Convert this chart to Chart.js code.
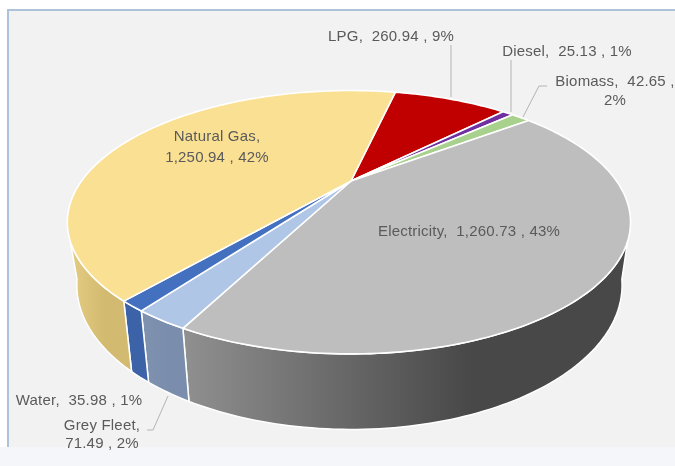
<!DOCTYPE html>
<html>
<head>
<meta charset="utf-8">
<title>Energy use by source</title>
<script src="https://cdn.jsdelivr.net/npm/chart.js@4/dist/chart.umd.min.js"></script>
<style>
  html, body { margin: 0; background: #fff; }
  canvas { display: block; filter: blur(0.4px); }
</style>
</head>
<body>
<canvas id="pie" width="675" height="466"></canvas>
<script>
const categories = ['LPG', 'Diesel', 'Biomass', 'Electricity', 'Grey Fleet', 'Water', 'Natural Gas'];
const values = [260.94, 25.13, 42.65, 1260.73, 71.49, 35.98, 1250.94];
const percents = [9, 1, 2, 43, 2, 1, 42];
const topColors = ['#c00000', '#7030a0', '#a9d18e', '#bebebe', '#b0c6e6', '#4470c0', '#fae093'];
const wallLeft = ['#900000', '#542478', '#7f9d6a', '#909090', '#7f92b0', '#3c62a8', '#e4cc84'];
const wallRight = ['#900000', '#542478', '#7f9d6a', '#484848', '#7a8dac', '#3c62a8', '#d2ba70'];

// how the flat pie is tilted: top face and bottom face of the disc
const PERSPECTIVE = 0.313;
const topFace = { dx: -2, dy: 0, rxLeft: 1.497, rxRight: 1.475, ry: 0.66 };
const bottomFace = { dx: -1, dy: 59, rxLeft: 1.452, rxRight: 1.425, ry: 0.723 };
const deg = d => d * Math.PI / 180;
const WALL_FROM = deg(26);
const WALL_TO = deg(154);
const BOTTOM_FROM = deg(16);
const BOTTOM_TO = deg(164);

// label text lines and where they sit, same order as categories
const fmt = v => v.toLocaleString('en-US', { minimumFractionDigits: 2, maximumFractionDigits: 2 });
const labelText = categories.map((c, i) => `${c},  ${fmt(values[i])} , ${percents[i]}%`);
const labelSpots = [
  { x: 391, ys: [37] },
  { x: 567, ys: [52] },
  { x: 615, ys: [82, 101], split: true },
  { x: 469, ys: [232] },
  { x: 102, ys: [426, 444], split: true },
  { x: 79, ys: [401] },
  { x: 217, ys: [137, 158], split: true }
];
const leaders = [
  [[451, 45], [451, 97]],
  [[511, 60], [511, 112]],
  [[547, 86], [539, 86], [523, 117]],
  [[168, 396], [153, 430], [147, 430]]
];

function project(arc, face, angle) {
  const w = 1 - PERSPECTIVE * Math.sin(angle);
  const cos = Math.cos(angle);
  const rx = cos < 0 ? face.rxLeft : face.rxRight;
  return {
    x: arc.x + face.dx + rx * arc.outerRadius * cos / w,
    y: arc.y + face.dy + face.ry * arc.outerRadius * Math.sin(angle) / w
  };
}

function traceArc(ctx, arc, face, from, to, moveFirst) {
  const steps = Math.max(2, Math.ceil(Math.abs(to - from) / 0.02));
  for (let s = 0; s <= steps; s++) {
    const p = project(arc, face, from + (to - from) * s / steps);
    if (s === 0 && moveFirst) ctx.moveTo(p.x, p.y);
    else ctx.lineTo(p.x, p.y);
  }
}

const tiltedPie = {
  id: 'tiltedPie',
  beforeDraw(chart) {
    const ctx = chart.ctx;
    ctx.save();
    ctx.fillStyle = '#f4f6f9';
    ctx.fillRect(0, 447, 675, 19);
    ctx.fillStyle = '#f2f2f2';
    ctx.fillRect(8, 9, 667, 438);
    ctx.strokeStyle = '#adc3da';
    ctx.lineWidth = 2;
    ctx.beginPath();
    ctx.moveTo(8, 447);
    ctx.lineTo(8, 10);
    ctx.lineTo(675, 10);
    ctx.stroke();
    ctx.restore();
  },
  beforeDatasetsDraw(chart) {
    const ctx = chart.ctx;
    const arcs = chart.getDatasetMeta(0).data;
    ctx.save();
    ctx.lineJoin = 'round';

    // side walls first, the top face covers whatever overlaps
    arcs.forEach((arc, i) => {
      // angles may run past a full turn because of the rotation
      [0, Math.PI * 2, -Math.PI * 2].forEach(shift => {
        const from = Math.max(arc.startAngle + shift, WALL_FROM);
        const to = Math.min(arc.endAngle + shift, WALL_TO);
        if (to <= from) return;
        const left = project(arc, topFace, to).x;
        const right = project(arc, topFace, from).x;
        const grad = ctx.createLinearGradient(left, 0, right, 0);
        grad.addColorStop(0, wallLeft[i]);
        grad.addColorStop(0.65, wallRight[i]);
        grad.addColorStop(1, wallRight[i]);
        ctx.beginPath();
        traceArc(ctx, arc, topFace, from, to, true);
        // the lower rim reaches further round than the upper one at both ends
        traceArc(ctx, arc, bottomFace,
          to === WALL_TO ? BOTTOM_TO : to,
          from === WALL_FROM ? BOTTOM_FROM : from, false);
        ctx.closePath();
        ctx.fillStyle = grad;
        ctx.fill();
        ctx.strokeStyle = '#ffffff';
        ctx.lineWidth = 1.5;
        ctx.stroke();
      });
    });

    // top face
    arcs.forEach((arc, i) => {
      ctx.beginPath();
      ctx.moveTo(arc.x + topFace.dx, arc.y + topFace.dy);
      traceArc(ctx, arc, topFace, arc.startAngle, arc.endAngle, false);
      ctx.closePath();
      ctx.fillStyle = topColors[i];
      ctx.fill();
      ctx.strokeStyle = '#ffffff';
      ctx.lineWidth = 1.6;
      ctx.stroke();
    });

    ctx.restore();
    return false;
  },
  // returning false above also skips afterDatasetsDraw, so labels go here
  afterDraw(chart) {
    const ctx = chart.ctx;
    ctx.save();
    ctx.strokeStyle = '#b4b4b4';
    ctx.lineWidth = 1;
    leaders.forEach(line => {
      ctx.beginPath();
      line.forEach((p, k) => (k ? ctx.lineTo(p[0], p[1]) : ctx.moveTo(p[0], p[1])));
      ctx.stroke();
    });
    ctx.font = '15px "Liberation Sans"';
    ctx.letterSpacing = '0.2px';
    ctx.fillStyle = '#5a5a5a';
    ctx.textAlign = 'center';
    ctx.textBaseline = 'middle';
    labelSpots.forEach((spot, i) => {
      if (spot.split) {
        // two line labels break after the name, Biomass breaks before the percent
        const lines = categories[i] === 'Biomass'
          ? [`${categories[i]},  ${fmt(values[i])} ,`, `${percents[i]}%`]
          : [`${categories[i]},`, `${fmt(values[i])} , ${percents[i]}%`];
        lines.forEach((t, k) => ctx.fillText(t, spot.x, spot.ys[k]));
      } else {
        ctx.fillText(labelText[i], spot.x, spot.ys[0]);
      }
    });
    ctx.restore();
  }
};

new Chart(document.getElementById('pie').getContext('2d'), {
  type: 'pie',
  data: {
    labels: categories,
    datasets: [{ data: values, backgroundColor: topColors }]
  },
  options: {
    responsive: false,
    animation: false,
    rotation: 12.6,
    layout: { padding: { left: 31, bottom: 104 } },
    plugins: { legend: { display: false }, tooltip: { enabled: false } }
  },
  plugins: [tiltedPie]
});
</script>
</body>
</html>
